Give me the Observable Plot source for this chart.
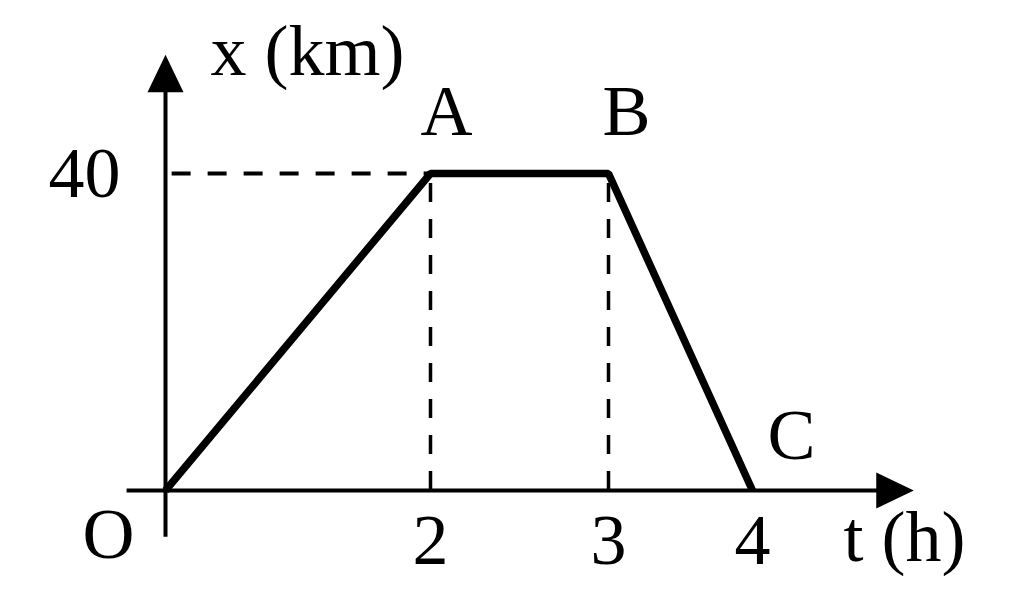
<!DOCTYPE html>
<html>
<head>
<meta charset="utf-8">
<script src="https://cdn.jsdelivr.net/npm/d3@7"></script>
<script src="https://cdn.jsdelivr.net/npm/@observablehq/plot@0.6"></script>
<style>
  html, body { margin: 0; padding: 0; background: #fff; }
</style>
</head>
<body>
<div id="chart"></div>
<script>
// ---- data ----
const tHours = [0, 2, 3, 4];
const xKm = [0, 40, 40, 0];
const pointNames = ["O", "A", "B", "C"];
const xTickValues = [2, 3, 4];
const yTickValues = [40];
const xAxisLabel = "t (h)";
const yAxisLabel = "x (km)";

const points = tHours.map((t, i) => ({t, x: xKm[i], name: pointNames[i]}));
const FONT = "'Liberation Serif', 'Times New Roman', serif";
const FS = 72;

// filled arrowhead whose tip sits at the anchor point
const arrowHead = {
  draw(context, size) {
    const r = Math.sqrt(size / Math.PI);
    const L = r * 2.5, W = r * 1.2;
    context.moveTo(0, 0);
    context.lineTo(-W, L);
    context.lineTo(W, L);
    context.closePath();
  }
};

const labelOffsets = {
  O: [-57, 44],
  A: [16, -62],
  B: [18, -62],
  C: [39, -55]
};

const plot = Plot.plot({
  width: 1024,
  height: 600,
  marginLeft: 165,
  marginBottom: 110,
  marginTop: 0,
  marginRight: 0,
  style: {fontFamily: FONT, fontSize: FS + "px", color: "#000", background: "#fff"},
  x: {type: "linear", domain: [0, 2, 3, 4], range: [165, 430, 608, 752], axis: null},
  y: {type: "linear", domain: [0, 40], range: [490, 173], axis: null},
  marks: [
    // dashed guides
    Plot.ruleY(yTickValues, {x1: 0.05, x2: 2, stroke: "#000", strokeWidth: 4, strokeDasharray: "19,17"}),
    Plot.ruleX([2, 3], {y1: 0, y2: 40, stroke: "#000", strokeWidth: 3.5, strokeDasharray: "19,17"}),
    // axes lines
    Plot.ruleY([0], {x1: -0.29, x2: 4.95, stroke: "#000", strokeWidth: 4}),
    Plot.ruleX([0], {y1: -5.9, y2: 52, stroke: "#000", strokeWidth: 4}),
    // arrowheads
    Plot.dot([{t: 0, x: 55}], {x: "t", y: "x", symbol: arrowHead, r: 15, fill: "#000", stroke: "none"}),
    Plot.dot([{t: 5.12, x: 0}], {x: "t", y: "x", symbol: arrowHead, r: 15, fill: "#000", stroke: "none", rotate: 90}),
    // the graph
    Plot.line(points, {x: "t", y: "x", stroke: "#000", strokeWidth: 7.5, strokeLinejoin: "miter", strokeLinecap: "butt"}),
    // tick labels
    Plot.axisX({ticks: xTickValues, tickFormat: "d", tickSize: 0, tickPadding: 22, fontSize: FS, fontFamily: FONT, label: null}),
    Plot.axisY({ticks: yTickValues, tickFormat: "d", tickSize: 0, tickPadding: 45, fontSize: FS, fontFamily: FONT, label: null}),
    // point names
    ...points.map(p => Plot.text([p], {
      x: "t", y: "x", text: "name",
      dx: labelOffsets[p.name][0], dy: labelOffsets[p.name][1],
      fontSize: FS, fontFamily: FONT, fill: "#000"
    })),
    // axis titles
    Plot.text([{t: 0, x: 55.3}], {x: "t", y: "x", text: () => yAxisLabel, textAnchor: "start", dx: 45, fontSize: FS, fontFamily: FONT, fill: "#000"}),
    Plot.text([{t: 4, x: 0}], {x: "t", y: "x", text: () => xAxisLabel, textAnchor: "start", dx: 91, dy: 47, fontSize: FS, fontFamily: FONT, fill: "#000"})
  ]
});

document.getElementById("chart").appendChild(plot);
</script>
</body>
</html>
